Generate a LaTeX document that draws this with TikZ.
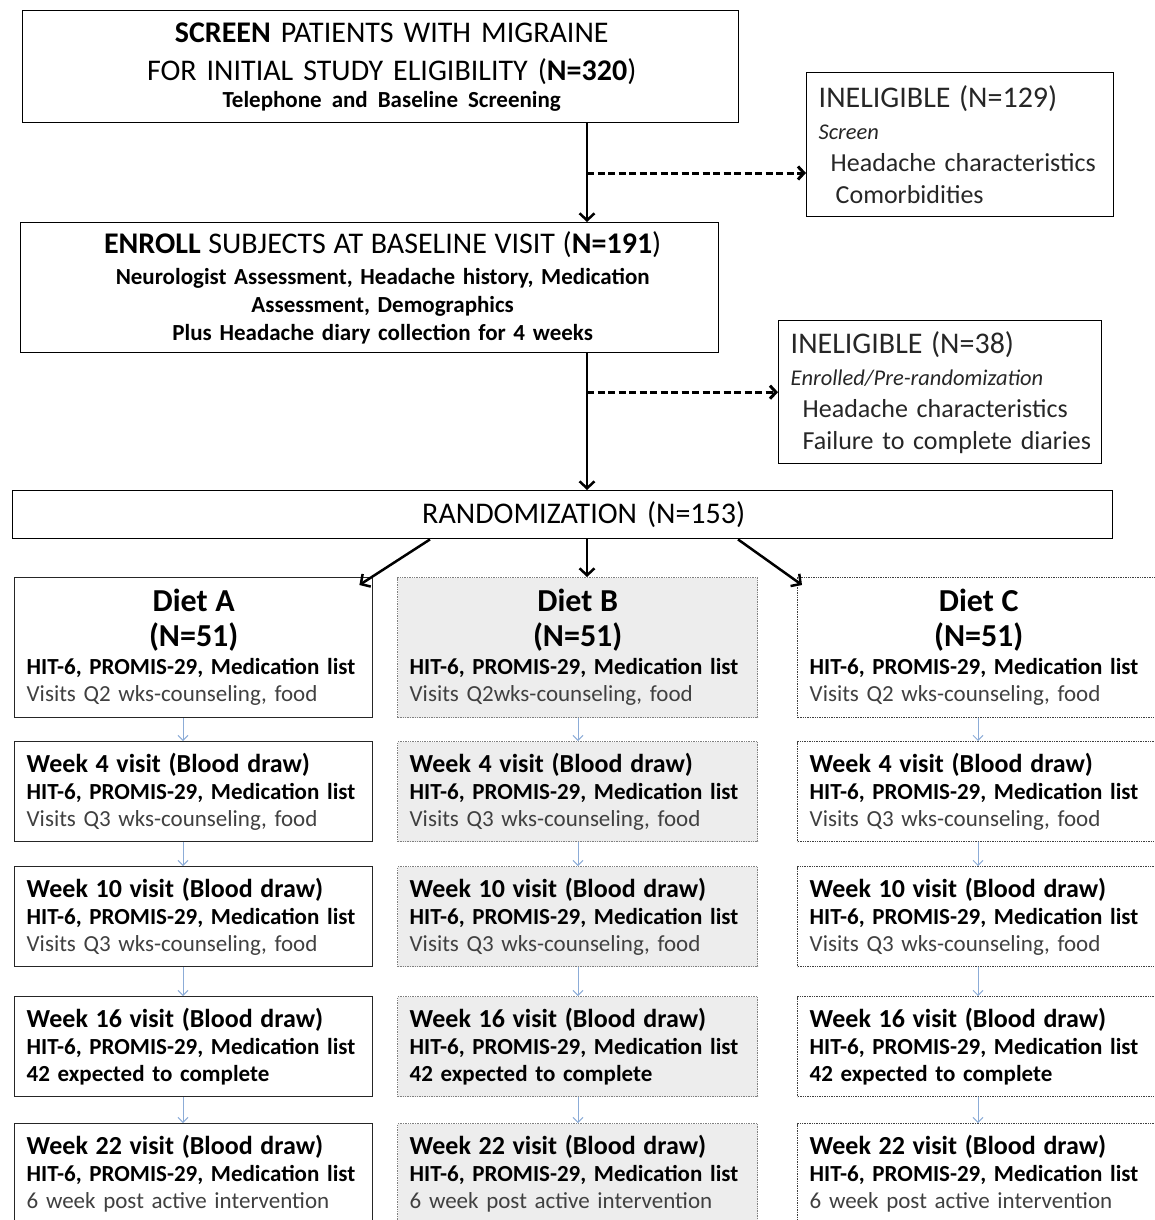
\documentclass[tikz,border=0pt]{standalone}
\usepackage{fontspec}
\setmainfont{Carlito}
\usetikzlibrary{arrows.meta}

\definecolor{textgray}{RGB}{64,64,64}
\definecolor{linkblue}{RGB}{140,172,215}

\newcommand{\fsbig}{\fontsize{30}{38}\selectfont}
\newcommand{\fssub}{\fontsize{23}{28}\selectfont}
\newcommand{\fsmid}{\fontsize{26}{32}\selectfont}
\newcommand{\fsital}{\fontsize{22.5}{32}\selectfont}
\newcommand{\fsdiet}{\fontsize{32}{36}\selectfont}
\newcommand{\fslist}{\fontsize{23}{27}\selectfont}
\newcommand{\fstitle}{\fontsize{26}{27}\selectfont}

\tikzset{
  box/.style={draw, line width=1.4pt, inner xsep=12pt, inner ysep=0pt, anchor=north west},
  armA/.style={box, draw=black!85, fill=white},
  armB/.style={box, draw=black!50, densely dotted, fill=black!7},
  armC/.style={box, draw=black!75, densely dotted, fill=white},
  mainarrow/.style={line width=2.5pt, -{Straight Barb[length=7pt,width=15pt]}},
  dasharrow/.style={line width=3pt, dash pattern=on 7pt off 3.5pt, -{Straight Barb[length=6pt,width=13pt]}},
  steparrow/.style={draw=linkblue, line width=1pt, -{Straight Barb[length=5pt,width=10pt]}}
}

\begin{document}
\begin{tikzpicture}[x=1pt, y=-1pt]
\useasboundingbox (0,0) rectangle (1155,1220);
\clip (0,0) rectangle (1155,1220);

% screening, enrolment, randomization
\node[box, minimum width=716pt, minimum height=112pt, text width=692pt, align=center, font=\fsbig] (screen) at (22,10)
  {\hspace*{22pt}\textbf{SCREEN} PATIENTS WITH MIGRAINE\\
   \hspace*{22pt}FOR INITIAL STUDY ELIGIBILITY (\textbf{N=320})\\[-11pt]
   {\fssub\hspace*{22pt}\textbf{Telephone and Baseline Screening}}};
\node[box, minimum width=307pt, minimum height=144pt, text width=283pt, align=left, font=\fsmid, text=black!85] (inelA) at (806,72)
  {{\fsbig INELIGIBLE (N=129)}\\
   {\fsital\textit{Screen}}\\
   \hspace*{12pt}Headache characteristics\\
   \hspace*{17pt}Comorbidities};
\node[box, minimum width=698pt, minimum height=130pt, text width=674pt, align=center, font=\fssub] (enroll) at (20,222)
  {{\fsbig\hspace*{26pt}\textbf{ENROLL} SUBJECTS AT BASELINE VISIT (\textbf{N=191})}\\[3pt]
   \hspace*{26pt}\textbf{Neurologist Assessment, Headache history, Medication}\\
   \hspace*{26pt}\textbf{Assessment, Demographics}\\
   \hspace*{26pt}\textbf{Plus Headache diary collection for 4 weeks}};
\node[box, minimum width=323pt, minimum height=143pt, text width=299pt, align=left, font=\fsmid, text=black!85] (inelB) at (778,320)
  {{\fsbig INELIGIBLE (N=38)}\\
   {\fsital\textit{Enrolled/Pre-randomization}}\\
   \hspace*{12pt}Headache characteristics\\
   \mbox{\hspace*{12pt}Failure to complete diaries}};
\node[box, minimum width=1100pt, minimum height=48pt, text width=1076pt, align=center, font=\fsbig] (rand) at (12,490)
  {\hspace*{42pt}RANDOMIZATION (N=153)};

\coordinate (trunk) at (587,0);
\coordinate (splitL) at (430,0);
\coordinate (splitR) at (738,0);
\draw[mainarrow] (screen.south -| trunk) -- (enroll.north -| trunk);
\draw[dasharrow] (trunk |- 0,173) -- (inelA.west |- 0,173);
\draw[mainarrow] (enroll.south -| trunk) -- (rand.north -| trunk);
\draw[dasharrow] (trunk |- inelB.west) -- (inelB.west);

% diet arms
\node[armA, minimum width=358pt, text width=334pt, minimum height=140pt, align=left, font=\fslist] (dietA) at (14,577)
  {\makebox[\linewidth]{\fsdiet\textbf{Diet A}}\\[7.5pt]
   \makebox[\linewidth]{\fsdiet\textbf{(N=51)}}\\[1.5pt]
   \textbf{HIT-6, PROMIS-29, Medication list}\\
   {\color{textgray}Visits Q2 wks-counseling, food}};
\node[armB, minimum width=360pt, text width=336pt, minimum height=140pt, align=left, font=\fslist] (dietB) at (397,577)
  {\makebox[\linewidth]{\fsdiet\textbf{Diet B}}\\[7.5pt]
   \makebox[\linewidth]{\fsdiet\textbf{(N=51)}}\\[1.5pt]
   \textbf{HIT-6, PROMIS-29, Medication list}\\
   {\color{textgray}Visits Q2wks-counseling, food}};
\node[armC, minimum width=362pt, text width=338pt, minimum height=140pt, align=left, font=\fslist] (dietC) at (797,577)
  {\makebox[\linewidth]{\fsdiet\textbf{Diet C}}\\[7.5pt]
   \makebox[\linewidth]{\fsdiet\textbf{(N=51)}}\\[1.5pt]
   \textbf{HIT-6, PROMIS-29, Medication list}\\
   {\color{textgray}Visits Q2 wks-counseling, food}};

\draw[mainarrow] (rand.south -| splitL) -- ([shift={(-14,8)}]dietA.north east);
\draw[mainarrow] (rand.south -| trunk) -- (dietB.north -| trunk);
\draw[mainarrow] (rand.south -| splitR) -- ([shift={(5,8)}]dietC.north west);

% follow-up visits
\foreach \col/\xl/\bw/\sty in {A/14/358/armA, B/397/360/armB, C/797/362/armC}{
  \pgfmathsetmacro{\twd}{\bw-24}
  \foreach \wk/\yt/\last in {4/741/{\color{textgray}Visits Q3 wks-counseling, food},
                             10/866/{\color{textgray}Visits Q3 wks-counseling, food},
                             16/996/{\textbf{42 expected to complete}},
                             22/1123/{\color{textgray}6 week post active intervention}}{
    \node[\sty, minimum width=\bw pt, text width=\twd pt, minimum height=100pt, align=left, font=\fslist] (w\wk\col) at (\xl,\yt)
      {{\fstitle\textbf{Week \wk\ visit (Blood draw)}}\\
       \textbf{HIT-6, PROMIS-29, Medication list}\\
       \last};
  }
}

\foreach \col/\cx in {A/183, B/578, C/978}{
  \coordinate (col\col) at (\cx,0);
  \foreach \a/\b in {diet/w4, w4/w10, w10/w16, w16/w22}
    \draw[steparrow] (\a\col.south -| col\col) -- (\b\col.north -| col\col);
}
\end{tikzpicture}
\end{document}
